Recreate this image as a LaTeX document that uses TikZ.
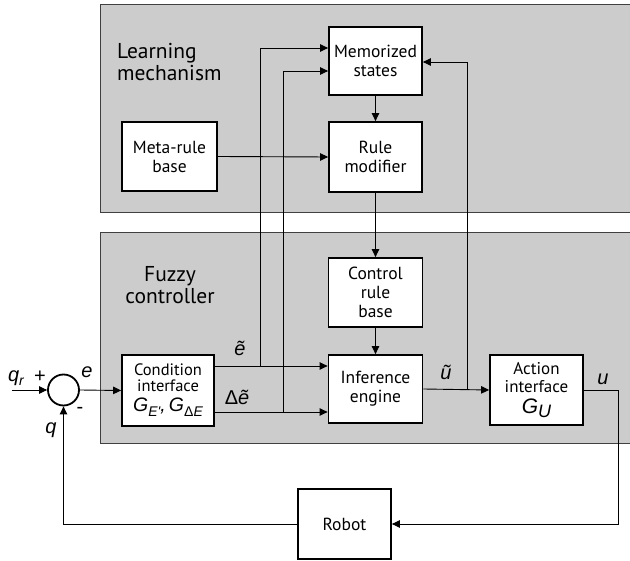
\documentclass[tikz,border=0pt]{standalone}
\usepackage{fontspec}
\setmainfont{PT Sans}
\newfontfamily\hel{Liberation Sans}
\usetikzlibrary{arrows.meta}
\begin{document}
\begin{tikzpicture}[x=1pt,y=-1pt,
  panel/.style={draw=black!75, fill=black!20, line width=0.9pt},
  blk/.style={draw, fill=white, line width=1.8pt, align=center, inner sep=0pt,
    font=\fontsize{17.5}{19}\selectfont},
  conn/.style={line width=0.9pt},
  arr/.style={conn, -{Triangle[length=8pt,width=7.5pt]}},
  lbl/.style={font=\hel\itshape\fontsize{20}{20}\selectfont, inner sep=0pt},
  ttl/.style={font=\fontsize{21.5}{22}\selectfont, inner sep=0pt}
]
\clip (0,0) rectangle (630,561);
\fill[white] (0,0) rectangle (630,561);

% panels
\draw[panel] (100,4) rectangle (640,212);
\draw[panel] (100,232) rectangle (640,443);

\node[ttl, align=left, anchor=west] (tlearn) at (117,62) {Learning\\mechanism};
\node[ttl, align=center] (tfuzzy) at (170,285) {Fuzzy\\controller};

% blocks
\node[blk, minimum width=93pt, minimum height=68pt] (mem) at (375.5,61) {Memorized\\states};
\node[blk, minimum width=93pt, minimum height=70pt] (rmod) at (375.5,157) {Rule\\modifier};
\node[blk, minimum width=95pt, minimum height=69pt] (meta) at (169.5,156.5) {Meta-rule\\base};
\node[blk, minimum width=94pt, minimum height=69pt] (crb) at (375.5,292.5) {Control\\rule\\base};
\node[blk, minimum width=94pt, minimum height=68pt] (inf) at (375.5,389) {Inference\\engine};
\node[blk, minimum width=92pt, minimum height=71pt, font=\fontsize{16.5}{16}\selectfont] (cond) at (168,390.5)
  {Condition\\interface\\[4pt]{\hel\itshape\fontsize{19.5}{19.5}\selectfont G\raisebox{-0.5ex}{\fontsize{14}{14}\selectfont E'},\,G\raisebox{-0.5ex}{\fontsize{14}{14}\selectfont{\upshape Δ}E}}};
\node[blk, minimum width=93pt, minimum height=70pt, font=\fontsize{17}{17.5}\selectfont] (act) at (536.5,390)
  {Action\\interface\\[4pt]{\hel\itshape\fontsize{21}{21}\selectfont G\raisebox{-0.3ex}{\fontsize{18}{18}\selectfont U}}};
\node[blk, minimum width=93pt, minimum height=70pt] (robot) at (344.5,524) {Robot};

% summing junction
\node[draw, circle, line width=1.8pt, minimum size=31pt, inner sep=0pt] (sum) at (63.5,390) {};
\coordinate (qin) at (12,390);

% coordinates
\coordinate (eup) at (260,366);
\coordinate (deup) at (283,412);
\coordinate (usplit) at (467,390);
\coordinate (uc) at (618,390);
\coordinate (ud) at (618,524);
\coordinate (qc) at (63.5,524);

% connectors
\draw[arr] (qin) -- (sum.west);
\draw[arr] (sum.east) -- (cond.west);
\draw[arr] (cond.east |- eup) -- (inf.west |- eup);
\draw[arr] (cond.east |- deup) -- (inf.west |- deup);
\draw[arr] (eup) -- (260,48) -- (mem.west |- 0,48);
\draw[arr] (deup) -- (283,71) -- (mem.west |- 0,71);
\draw[arr] (inf.east) -- (act.west);
\draw[arr] (usplit) -- (467,62) -- (mem.east |- 0,62);
\draw[arr] (mem.south) -- (rmod.north);
\draw[arr] (meta.east) -- (rmod.west);
\draw[arr] (rmod.south) -- (crb.north);
\draw[arr] (crb.south) -- (inf.north);
\draw[arr] (act.east) -- (uc) -- (ud) -- (robot.east);
\draw[arr] (robot.west) -- (qc) -- (sum.south);

% labels
\node[lbl] (lqr) at (16,378) {q\raisebox{-0.4ex}{\fontsize{14}{14}\selectfont r}};
\node[lbl, font=\hel\fontsize{20}{20}\selectfont] (lplus) at (40,377) {+};
\node[lbl] (le) at (87,372) {e};
\node[lbl, font=\hel\fontsize{20}{20}\selectfont] (lminus) at (80,410) {-};
\node[lbl] (lq) at (51,430) {q};
\node[lbl] (let) at (240,348) {ẽ};
\node[lbl] (ldet) at (237,397) {{\upshape Δ}ẽ};
\node[lbl] (lut) at (446,372) {ũ};
\node[lbl] (lu) at (603,379) {u};
\end{tikzpicture}
\end{document}
